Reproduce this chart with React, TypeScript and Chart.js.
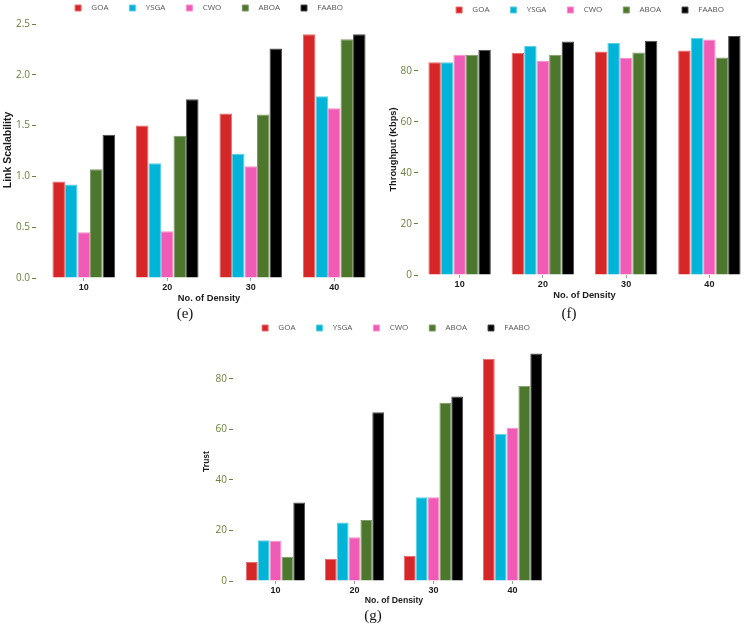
import React, { useEffect, useRef } from "react";
import { Chart, registerables } from "chart.js";
Chart.register(...registerables);

// ---------- data ----------
const categories = ["10", "20", "30", "40"];
const seriesNames = ["GOA", "YSGA", "CWO", "ABOA", "FAABO"];
const seriesColors = ["#d62728", "#00b4d8", "#f05cb5", "#4e772e", "#000000"];
const seriesEdges = ["#e66a6b", "#5ccfe6", "#f590cc", "#7f9c68", "#4d4d4d"];

// (e) Link Scalability
const scalGOA = [0.95, 1.5, 1.62, 2.4];
const scalYSGA = [0.92, 1.13, 1.22, 1.79];
const scalCWO = [0.45, 0.46, 1.1, 1.67];
const scalABOA = [1.07, 1.4, 1.61, 2.35];
const scalFAABO = [1.41, 1.76, 2.26, 2.4];
const scalTicks = [0, 0.5, 1.0, 1.5, 2.0, 2.5];

// (f) Throughput (Kbps)
const thrGOA = [83.4, 87.1, 87.6, 88.0];
const thrYSGA = [83.4, 89.8, 91.0, 93.0];
const thrCWO = [86.3, 84.0, 85.1, 92.3];
const thrABOA = [86.3, 86.3, 87.2, 85.3];
const thrFAABO = [88.3, 91.5, 91.8, 93.7];
const thrTicks = [0, 20, 40, 60, 80];

// (g) Trust
const trustGOA = [7.6, 8.8, 10.0, 87.9];
const trustYSGA = [16.1, 23.1, 33.1, 58.2];
const trustCWO = [15.9, 17.3, 33.1, 60.6];
const trustABOA = [9.6, 24.1, 70.5, 77.2];
const trustFAABO = [31.0, 66.7, 73.0, 90.0];
const trustTicks = [0, 20, 40, 60, 80];

const OLIVE = "#6b8040";

type PanelCfg = {
  left: number; top: number; width: number; height: number;
  yAxisW: number; rightW: number; xAxisH: number;
  yMax: number; ticks: number[]; decimals: number;
  values: number[][];
  yTitle: string; yTitleSize: number; yTitlePad: number;
  xTitleSize: number; tickLen: number;
};

function Panel({ cfg }: { cfg: PanelCfg }) {
  const ref = useRef<HTMLCanvasElement>(null);
  useEffect(() => {
    const dash = cfg.tickLen > 5 ? [4, cfg.tickLen - 4] : [];
    const chart = new Chart(ref.current as HTMLCanvasElement, {
      type: "bar",
      data: {
        labels: categories,
        datasets: seriesNames.map((n, i) => ({
          label: n,
          data: cfg.values[i],
          backgroundColor: seriesColors[i],
          borderColor: seriesEdges[i],
          borderWidth: 1,
          categoryPercentage: 0.75,
          barPercentage: 1,
        })),
      },
      options: {
        animation: false,
        responsive: true,
        maintainAspectRatio: false,
        layout: { padding: 0 },
        plugins: {
          tooltip: { enabled: false },
          legend: {
            display: true,
            position: "top",
            align: "center",
            labels: {
              boxWidth: 6,
              boxHeight: 6,
              padding: 21,
              color: "#555555",
              font: { family: "Open Sans", size: 8 },
              generateLabels: (ch: any) => {
                const items = (Chart.defaults.plugins.legend.labels as any).generateLabels(ch);
                items.forEach((it: any) => { it.text = "   " + it.text; });
                return items;
              },
            },
          },
        },
        scales: {
          x: {
            type: "category",
            offset: true,
            grid: {
              display: true,
              drawOnChartArea: false,
              drawTicks: true,
              tickLength: 3,
              offset: false,
              tickColor: "#a0a0a0",
            },
            border: { display: false },
            ticks: {
              color: "#1a1a1a",
              padding: 1,
              font: { family: "Liberation Sans", size: 9, weight: "bold" },
            },
            title: {
              display: true,
              text: "No. of Density",
              color: "#1a1a1a",
              font: { family: "Liberation Sans", size: cfg.xTitleSize, weight: "bold" },
              padding: { top: 0, bottom: 0 },
            },
            afterFit: (s: any) => { s.height = cfg.xAxisH; },
          },
          y: {
            type: "linear",
            min: 0,
            max: cfg.yMax,
            afterBuildTicks: (s: any) => { s.ticks = cfg.ticks.map((v) => ({ value: v })); },
            ticks: {
              color: OLIVE,
              padding: 2,
              font: { family: "Open Sans", size: 10 },
              callback: (v: any) => Number(v).toFixed(cfg.decimals),
            },
            grid: {
              display: true,
              drawOnChartArea: false,
              drawTicks: true,
              tickLength: cfg.tickLen,
              tickColor: OLIVE,
              tickBorderDash: dash,
            },
            border: { display: false },
            title: {
              display: true,
              text: cfg.yTitle,
              color: "#1a1a1a",
              font: { family: "Liberation Sans", size: cfg.yTitleSize, weight: "bold" },
              padding: { top: cfg.yTitlePad, bottom: 0 },
            },
            afterFit: (s: any) => { s.width = cfg.yAxisW; },
          },
          yr: {
            type: "linear",
            position: "right",
            display: true,
            grid: { display: false },
            border: { display: false },
            ticks: { display: false },
            afterFit: (s: any) => { s.width = cfg.rightW; },
          },
        },
      } as any,
    });
    return () => chart.destroy();
  }, []);
  return (
    <div style={{ position: "absolute", left: cfg.left, top: cfg.top, width: cfg.width, height: cfg.height }}>
      <canvas ref={ref} />
    </div>
  );
}

function Caption({ text, cx, cy }: { text: string; cx: number; cy: number }) {
  return (
    <div
      style={{
        position: "absolute", left: cx - 20, top: cy - 9, width: 40, height: 18,
        lineHeight: "18px", textAlign: "center",
        fontFamily: "'Liberation Serif', serif", fontSize: 15, color: "#111",
      }}
    >
      {text}
    </div>
  );
}

const panelE: PanelCfg = {
  left: 0, top: -17, width: 418, height: 321,
  yAxisW: 42, rightW: 42, xAxisH: 26,
  yMax: 2.52, ticks: scalTicks, decimals: 1,
  values: [scalGOA, scalYSGA, scalCWO, scalABOA, scalFAABO],
  yTitle: "Link Scalability", yTitleSize: 10.5, yTitlePad: 1.7,
  xTitleSize: 9.3, tickLen: 10,
};

const panelF: PanelCfg = {
  left: 376, top: -15, width: 428, height: 316,
  yAxisW: 42, rightW: 53, xAxisH: 26,
  yMax: 98.4, ticks: thrTicks, decimals: 0,
  values: [thrGOA, thrYSGA, thrCWO, thrABOA, thrFAABO],
  yTitle: "Throughput (Kbps)", yTitleSize: 9.3, yTitlePad: 11.4,
  xTitleSize: 9.3, tickLen: 4,
};

const panelG: PanelCfg = {
  left: 190, top: 303, width: 412, height: 303,
  yAxisW: 46, rightW: 50, xAxisH: 25,
  yMax: 94.5, ticks: trustTicks, decimals: 0,
  values: [trustGOA, trustYSGA, trustCWO, trustABOA, trustFAABO],
  yTitle: "Trust", yTitleSize: 8.5, yTitlePad: 11.9,
  xTitleSize: 8.7, tickLen: 7,
};

export default function App() {
  return (
    <div
      style={{
        position: "absolute", left: 0, top: 0, width: 752, height: 629,
        overflow: "hidden", background: "#ffffff",
      }}
    >
      <Panel cfg={panelE} />
      <Panel cfg={panelF} />
      <Panel cfg={panelG} />
      <Caption text="(e)" cx={185} cy={313} />
      <Caption text="(f)" cx={569} cy={313} />
      <Caption text="(g)" cx={373} cy={615} />
    </div>
  );
}
